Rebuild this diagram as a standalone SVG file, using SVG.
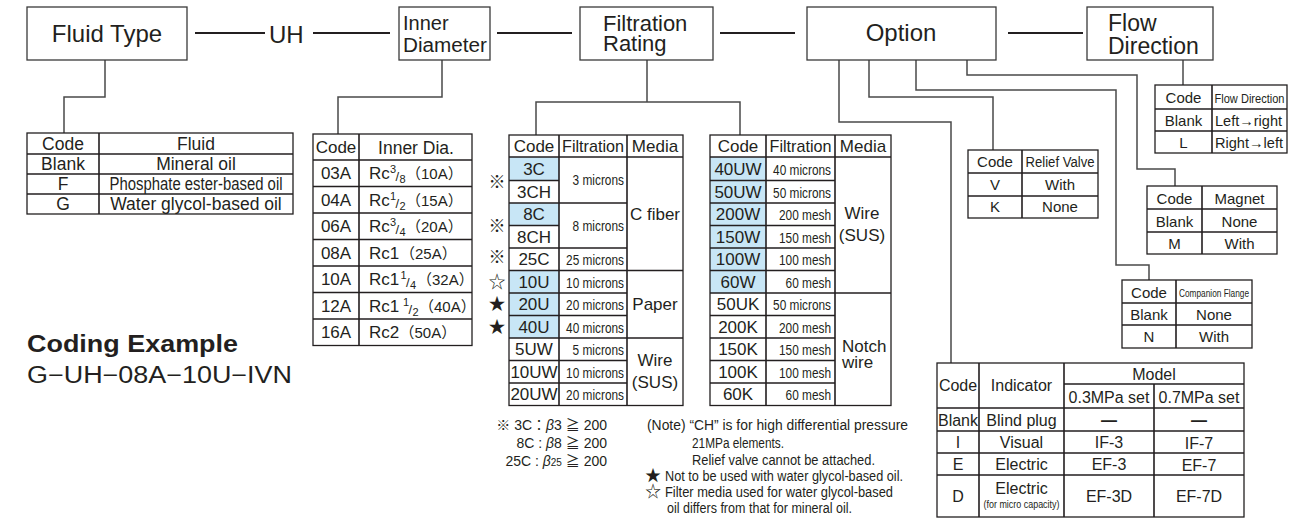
<svg xmlns="http://www.w3.org/2000/svg" width="1303" height="520" viewBox="0 0 1303 520">
<style>
text{font-family:"Liberation Sans","Noto Sans CJK JP",sans-serif;fill:#231f20}
.m{text-anchor:middle}
.e{text-anchor:end}
.box{fill:#fff;stroke:#3a3a3a;stroke-width:1.3}
.tb{fill:none;stroke:#231f20;stroke-width:1.3}
.ln{fill:none;stroke:#231f20;stroke-width:1.6}
.hl{fill:#c8e6f6}
.conn{fill:none;stroke:#4a4a4a;stroke-width:1.5}
.link{stroke:#231f20;stroke-width:2}
.s24{font-size:24px}.s23{font-size:23px}.s22{font-size:22px}.s20{font-size:20px}
.s18{font-size:17.5px}.s17{font-size:17px}.s16{font-size:16px}.s15{font-size:15px}
.s14{font-size:14px}.s13{font-size:13px}.s11{font-size:11px}.s10{font-size:10px}
.fr{font-size:11px}.fs{font-size:13px}.pr{font-size:15px}
</style>
<rect x="0" y="0" width="1303" height="520" fill="#fff"/>

<!-- connectors -->
<g id="connectors">
<path class="link" d="M195 33H265M313 33H390M497 33H572M720 33H795M1008 33H1083"/>
<path class="conn" d="M105 60V97H64V133"/>
<path class="conn" d="M442 60V97H338V134"/>
<path class="conn" d="M647 60V102M536 135V102H740V135"/>
<path class="conn" d="M839 60V122H951V363"/>
<path class="conn" d="M869 60V97H993V150"/>
<path class="conn" d="M916 60V90H1116V265H1149V280"/>
<path class="conn" d="M967 60V75H1137V169H1175V186"/>
<path class="conn" d="M1183 60V85"/>
</g>

<!-- top nodes -->
<g id="fluid-type">
<rect class="box" x="27" y="7" width="160" height="53"/>
<text class="m s24" x="107" y="42">Fluid Type</text>
</g>
<text class="s24" x="269" y="43">UH</text>
<g id="inner-diameter">
<rect class="box" x="399" y="7" width="91" height="53"/>
<text class="s20" x="403" y="30">Inner<tspan x="403" y="52" textLength="84" lengthAdjust="spacingAndGlyphs">Diameter</tspan></text>
</g>
<g id="filtration-rating">
<rect class="box" x="580" y="7" width="133" height="53"/>
<text class="s22" x="603" y="31">Filtration<tspan x="603" y="51">Rating</tspan></text>
</g>
<g id="option">
<rect class="box" x="807" y="7" width="189" height="53"/>
<text class="m s24" x="901" y="41">Option</text>
</g>
<g id="flow-direction">
<rect class="box" x="1087" y="7" width="126" height="53"/>
<text class="s23" x="1108" y="31">Flow<tspan x="1108" y="54">Direction</tspan></text>
</g>

<!-- fluid table -->
<g id="fluid-table">
<rect class="tb" x="27" y="133" width="266" height="81"/>
<path class="ln" d="M99 133V214M27 154H293M27 174H293M27 194H293"/>
<g class="m s18">
<text x="63" y="150">Code</text><text x="196" y="150">Fluid</text>
<text x="63" y="170">Blank</text><text x="196" y="170">Mineral oil</text>
<text x="63" y="190">F</text><text x="196" y="190" textLength="173" lengthAdjust="spacingAndGlyphs">Phosphate ester-based oil</text>
<text x="63" y="210">G</text><text x="196" y="210">Water glycol-based oil</text>
</g>
</g>

<!-- inner diameter table -->
<g id="inner-dia-table">
<rect class="tb" x="313" y="134" width="159" height="211.5"/>
<path class="ln" d="M359 134V345.5M313 160H472M313 186.5H472M313 213H472M313 239.5H472M313 266H472M313 292.5H472M313 319H472"/>
<g class="m s17">
<text x="336" y="153">Code</text>
<text class="s18" x="416" y="154">Inner Dia.</text>
<text x="336" y="179">03A</text>
<text x="336" y="205.5">04A</text>
<text x="336" y="232">06A</text>
<text x="336" y="258.5">08A</text>
<text x="336" y="285">10A</text>
<text x="336" y="311.5">12A</text>
<text x="336" y="338">16A</text>
</g>
<g class="s17">
<text x="369" y="179">Rc<tspan class="fr" x="390" y="173">3</tspan><tspan class="fs" x="395.5" y="181">/</tspan><tspan class="fr" x="399.5" y="183">8</tspan><tspan class="pr" x="406" y="179">（10A）</tspan></text>
<text x="369" y="205.5">Rc<tspan class="fr" x="390" y="199.5">1</tspan><tspan class="fs" x="395.5" y="207.5">/</tspan><tspan class="fr" x="399.5" y="209.5">2</tspan><tspan class="pr" x="406" y="205.5">（15A）</tspan></text>
<text x="369" y="232">Rc<tspan class="fr" x="390" y="226">3</tspan><tspan class="fs" x="395.5" y="234">/</tspan><tspan class="fr" x="399.5" y="236">4</tspan><tspan class="pr" x="406" y="232">（20A）</tspan></text>
<text x="369" y="258.5">Rc1<tspan class="pr" x="400" y="258.5">（25A）</tspan></text>
<text x="369" y="285">Rc1<tspan class="fr" x="400.5" y="279">1</tspan><tspan class="fs" x="406" y="287">/</tspan><tspan class="fr" x="410" y="289">4</tspan><tspan class="pr" x="417" y="285">（32A）</tspan></text>
<text x="369" y="311.5">Rc1<tspan class="fr" x="403" y="305.5">1</tspan><tspan class="fs" x="408.5" y="313.5">/</tspan><tspan class="fr" x="412.5" y="315.5">2</tspan><tspan class="pr" x="419" y="311.5">（40A）</tspan></text>
<text x="369" y="338">Rc2<tspan class="pr" x="399.5" y="338">（50A）</tspan></text>
</g>
</g>

<!-- filtration table left -->
<g id="filtration-table-1">
<rect class="hl" x="509" y="157" width="50" height="23.5"/>
<rect class="hl" x="509" y="203" width="50" height="22.5"/>
<rect class="hl" x="509" y="270.5" width="50" height="67.5"/>
<rect class="tb" x="509" y="135" width="174" height="270.5"/>
<path class="ln" d="M559 135V405.5M627 135V405.5M509 157H683M509 180.5H559M509 203H627M509 225.5H559M509 248H627M509 270.5H683M509 293H627M509 315.5H627M509 338H683M509 360.5H627M509 383H627"/>
<g class="m s17">
<text x="534" y="152">Code</text>
<text x="593" y="152" textLength="62" lengthAdjust="spacingAndGlyphs">Filtration</text>
<text x="655" y="152">Media</text>
<text x="534" y="175">3C</text>
<text x="534" y="197.5">3CH</text>
<text x="534" y="220">8C</text>
<text x="534" y="242.5">8CH</text>
<text x="534" y="265">25C</text>
<text x="534" y="287.5">10U</text>
<text x="534" y="310">20U</text>
<text x="534" y="332.5">40U</text>
<text x="534" y="355">5UW</text>
<text x="534" y="377.5">10UW</text>
<text x="534" y="400">20UW</text>
<text x="655" y="220">C fiber</text>
<text x="655" y="310">Paper</text>
<text x="655" y="366">Wire<tspan x="655" y="388">(SUS)</tspan></text>
</g>
<g class="e s15">
<text x="624" y="185" textLength="51.4" lengthAdjust="spacingAndGlyphs">3 microns</text>
<text x="624" y="230.5" textLength="51.4" lengthAdjust="spacingAndGlyphs">8 microns</text>
<text x="624" y="265" textLength="57.9" lengthAdjust="spacingAndGlyphs">25 microns</text>
<text x="624" y="287.5" textLength="57.9" lengthAdjust="spacingAndGlyphs">10 microns</text>
<text x="624" y="310" textLength="57.9" lengthAdjust="spacingAndGlyphs">20 microns</text>
<text x="624" y="332.5" textLength="57.9" lengthAdjust="spacingAndGlyphs">40 microns</text>
<text x="624" y="355" textLength="51.4" lengthAdjust="spacingAndGlyphs">5 microns</text>
<text x="624" y="377.5" textLength="57.9" lengthAdjust="spacingAndGlyphs">10 microns</text>
<text x="624" y="400" textLength="57.9" lengthAdjust="spacingAndGlyphs">20 microns</text>
</g>
<g class="m s17">
<text x="497" y="188">※</text>
<text x="497" y="232">※</text>
<text x="497" y="263">※</text>
<text x="497" y="288">☆</text>
<text x="497" y="310">★</text>
<text x="497" y="333">★</text>
</g>
</g>

<!-- filtration table right -->
<g id="filtration-table-2">
<rect class="hl" x="710" y="157" width="56" height="136"/>
<rect class="tb" x="710" y="135" width="181" height="270.5"/>
<path class="ln" d="M766 135V405.5M835 135V405.5M710 157H891M710 180.5H835M710 203H835M710 225.5H835M710 248H835M710 270.5H835M710 293H891M710 315.5H835M710 338H835M710 360.5H835M710 383H835"/>
<g class="m s17">
<text x="738" y="152">Code</text>
<text x="800.5" y="152" textLength="62" lengthAdjust="spacingAndGlyphs">Filtration</text>
<text x="863" y="152">Media</text>
<text x="738" y="175">40UW</text>
<text x="738" y="197.5">50UW</text>
<text x="738" y="220">200W</text>
<text x="738" y="242.5">150W</text>
<text x="738" y="265">100W</text>
<text x="738" y="287.5">60W</text>
<text x="738" y="310">50UK</text>
<text x="738" y="332.5">200K</text>
<text x="738" y="355">150K</text>
<text x="738" y="377.5">100K</text>
<text x="738" y="400">60K</text>
<text x="862" y="219">Wire<tspan x="862" y="241">(SUS)</tspan></text>
</g>
<text class="s17" x="842" y="352">Notch<tspan x="842" y="368">wire</tspan></text>
<g class="e s15">
<text x="831" y="175" textLength="57.9" lengthAdjust="spacingAndGlyphs">40 microns</text>
<text x="831" y="197.5" textLength="57.9" lengthAdjust="spacingAndGlyphs">50 microns</text>
<text x="831" y="220" textLength="52" lengthAdjust="spacingAndGlyphs">200 mesh</text>
<text x="831" y="242.5" textLength="52" lengthAdjust="spacingAndGlyphs">150 mesh</text>
<text x="831" y="265" textLength="52" lengthAdjust="spacingAndGlyphs">100 mesh</text>
<text x="831" y="287.5" textLength="45.4" lengthAdjust="spacingAndGlyphs">60 mesh</text>
<text x="831" y="310" textLength="57.9" lengthAdjust="spacingAndGlyphs">50 microns</text>
<text x="831" y="332.5" textLength="52" lengthAdjust="spacingAndGlyphs">200 mesh</text>
<text x="831" y="355" textLength="52" lengthAdjust="spacingAndGlyphs">150 mesh</text>
<text x="831" y="377.5" textLength="52" lengthAdjust="spacingAndGlyphs">100 mesh</text>
<text x="831" y="400" textLength="45.4" lengthAdjust="spacingAndGlyphs">60 mesh</text>
</g>
</g>

<!-- notes -->
<g id="beta-notes" class="e s14">
<text x="607" y="430">※ 3C<tspan>：</tspan><tspan font-style="italic">β</tspan>3 ≧ 200</text>
<text x="607" y="448">8C : <tspan font-style="italic">β</tspan>8 ≧ 200</text>
<text x="607" y="466">25C : <tspan font-style="italic">β</tspan><tspan class="s10">25</tspan> ≧ 200</text>
</g>
<g id="notes" class="s14">
<text x="647" y="430" textLength="261" lengthAdjust="spacingAndGlyphs">(Note) “CH” is for high differential pressure</text>
<text x="692" y="448" textLength="92" lengthAdjust="spacingAndGlyphs">21MPa elements.</text>
<text x="692" y="465" textLength="183" lengthAdjust="spacingAndGlyphs">Relief valve cannot be attached.</text>
<text class="s16" x="645" y="481">★</text>
<text x="665" y="481" textLength="238" lengthAdjust="spacingAndGlyphs">Not to be used with water glycol-based oil.</text>
<text class="s16" x="645" y="497">☆</text>
<text x="665" y="497" textLength="228" lengthAdjust="spacingAndGlyphs">Filter media used for water glycol-based</text>
<text x="667" y="513" textLength="185" lengthAdjust="spacingAndGlyphs">oil differs from that for mineral oil.</text>
</g>

<!-- coding example -->
<g id="coding-example">
<text class="s23" x="27" y="352" font-weight="bold" textLength="211" lengthAdjust="spacingAndGlyphs">Coding Example</text>
<text class="s23" x="27" y="383" textLength="265" lengthAdjust="spacingAndGlyphs">G−UH−08A−10U−IVN</text>
</g>

<!-- flow direction table -->
<g id="flow-table">
<rect class="tb" x="1155" y="85" width="132" height="68"/>
<path class="ln" d="M1212 85V153M1155 109H1287M1155 131H1287"/>
<g class="m s15">
<text x="1183.5" y="103">Code</text>
<text class="s13" x="1249.5" y="103" textLength="70" lengthAdjust="spacingAndGlyphs">Flow Direction</text>
<text x="1183.5" y="126">Blank</text>
<text x="1183.5" y="148">L</text>
</g>
<text class="s15" x="1215" y="126" textLength="67" lengthAdjust="spacingAndGlyphs">Left→right</text>
<text class="s15" x="1215" y="148" textLength="68" lengthAdjust="spacingAndGlyphs">Right→left</text>
</g>

<!-- relief valve table -->
<g id="relief-valve-table">
<rect class="tb" x="968" y="150" width="130" height="68"/>
<path class="ln" d="M1022 150V218M968 173H1098M968 196H1098"/>
<g class="m s15">
<text x="995" y="167">Code</text>
<text class="s14" x="1060" y="167" textLength="69" lengthAdjust="spacingAndGlyphs">Relief Valve</text>
<text x="995" y="190">V</text><text x="1060" y="190">With</text>
<text x="995" y="212">K</text><text x="1060" y="212">None</text>
</g>
</g>

<!-- magnet table -->
<g id="magnet-table">
<rect class="tb" x="1147" y="186" width="130" height="68"/>
<path class="ln" d="M1202 186V254M1147 209H1277M1147 232H1277"/>
<g class="m s15">
<text x="1174.5" y="204">Code</text><text x="1239.5" y="204">Magnet</text>
<text x="1174.5" y="227">Blank</text><text x="1239.5" y="227">None</text>
<text x="1174.5" y="249">M</text><text x="1239.5" y="249">With</text>
</g>
</g>

<!-- companion flange table -->
<g id="companion-flange-table">
<rect class="tb" x="1122" y="280" width="130" height="68"/>
<path class="ln" d="M1176 280V348M1122 303H1252M1122 325H1252"/>
<g class="m s15">
<text x="1149" y="298">Code</text>
<text class="s11" x="1214" y="297" textLength="70" lengthAdjust="spacingAndGlyphs">Companion Flange</text>
<text x="1149" y="320">Blank</text><text x="1214" y="320">None</text>
<text x="1149" y="342">N</text><text x="1214" y="342">With</text>
</g>
</g>

<!-- indicator table -->
<g id="indicator-table">
<rect class="tb" x="937" y="363" width="307" height="154"/>
<path class="ln" d="M979 363V517M1064 363V517M1154 384V517M1064 384H1244M937 408H1244M937 431H1244M937 453H1244M937 475H1244"/>
<g class="m s16">
<text x="958" y="391">Code</text>
<text x="1021.5" y="391">Indicator</text>
<text x="1154" y="380">Model</text>
<text x="1109" y="403">0.3MPa set</text>
<text x="1199" y="403">0.7MPa set</text>
<text x="958" y="426">Blank</text><text x="1021.5" y="426">Blind plug</text>
<text x="1109" y="426" font-weight="bold">—</text><text x="1199" y="426" font-weight="bold">—</text>
<text x="958" y="448">I</text><text x="1021.5" y="448">Visual</text>
<text x="1109" y="448">IF-3</text><text x="1199" y="449">IF-7</text>
<text x="958" y="470">E</text><text x="1021.5" y="470">Electric</text>
<text x="1109" y="470">EF-3</text><text x="1199" y="471">EF-7</text>
<text x="958" y="502">D</text>
<text x="1021.5" y="494">Electric<tspan class="s10" x="1021.5" y="508" textLength="76" lengthAdjust="spacingAndGlyphs">(for micro capacity)</tspan></text>
<text x="1109" y="502">EF-3D</text><text x="1199" y="502">EF-7D</text>
</g>
</g>
</svg>
